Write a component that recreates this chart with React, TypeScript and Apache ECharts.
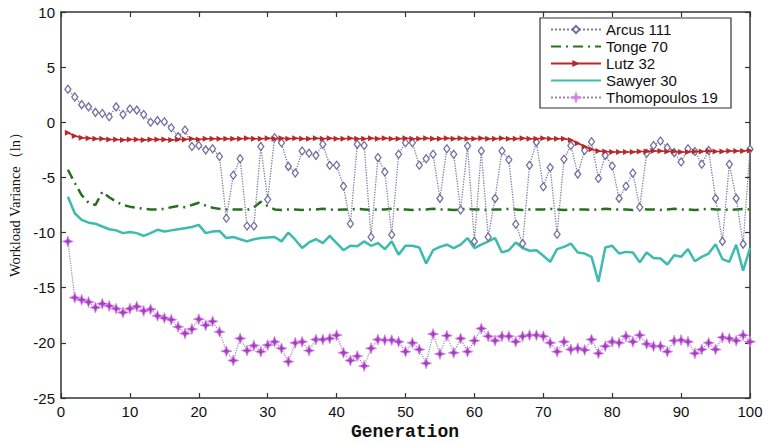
import React, { useEffect, useRef } from "react";
import * as echarts from "echarts";

const generations: number[] = Array.from({ length: 100 }, (_, i) => i + 1);

const arcus = [3.0,2.3,1.6,1.4,0.9,0.8,0.5,1.4,0.7,1.2,
  1.1,0.7,0.0,0.15,0.05,-0.5,-1.3,-0.7,-2.2,-2.1,
  -2.5,-2.4,-3.1,-8.7,-4.8,-3.3,-9.4,-9.4,-2.2,-7.0,
  -1.4,-1.85,-4.0,-4.6,-2.6,-2.8,-3.0,-2.0,-3.9,-3.9,
  -5.8,-9.2,-2.0,-2.1,-10.4,-3.2,-4.5,-10.2,-2.9,-1.85,
  -1.85,-3.9,-3.3,-2.9,-6.9,-2.4,-2.9,-7.95,-2.15,-10.8,
  -2.6,-10.4,-6.9,-2.6,-3.4,-9.25,-11.0,-3.9,-1.8,-5.85,
  -4.1,-10.15,-3.35,-2.1,-4.7,-2.55,-1.76,-5.1,-3.0,-3.96,
  -6.9,-5.8,-4.6,-7.7,-2.8,-2.1,-1.7,-2.3,-2.75,-3.6,
  -2.4,-2.65,-3.8,-2.55,-6.9,-10.8,-3.8,-6.9,-11.05,-2.45];

const tonge = [-4.3,-5.5,-6.6,-7.3,-7.5,-6.3,-6.8,-7.2,-7.5,-7.65,
  -7.75,-7.85,-7.9,-7.9,-7.85,-7.7,-7.6,-7.7,-7.5,-7.3,
  -7.55,-7.75,-7.85,-7.9,-7.9,-7.9,-7.95,-7.7,-7.2,-7.6,
  -7.9,-7.95,-7.9,-7.9,-7.95,-7.9,-7.9,-7.85,-7.9,-7.95,
  -7.9,-7.9,-7.85,-7.9,-7.95,-7.9,-7.9,-7.85,-7.9,-7.9,
  -7.95,-7.9,-7.9,-7.85,-7.9,-7.9,-7.95,-7.9,-7.85,-7.9,
  -7.9,-7.95,-7.9,-7.9,-7.85,-7.9,-7.95,-7.9,-7.9,-7.9,
  -7.85,-7.9,-7.95,-7.9,-7.9,-7.9,-7.95,-7.9,-7.85,-7.9,
  -7.9,-7.9,-7.95,-7.8,-7.9,-7.9,-7.95,-7.9,-7.85,-7.9,
  -7.9,-7.95,-7.9,-7.85,-7.9,-7.9,-7.95,-7.9,-7.85,-7.9];

const lutz = [-0.95,-1.25,-1.4,-1.45,-1.5,-1.5,-1.55,-1.55,-1.6,-1.55,
  -1.55,-1.6,-1.55,-1.55,-1.55,-1.6,-1.55,-1.55,-1.5,-1.55,
  -1.5,-1.5,-1.5,-1.5,-1.5,-1.5,-1.45,-1.5,-1.5,-1.45,
  -1.5,-1.45,-1.5,-1.45,-1.5,-1.5,-1.45,-1.5,-1.45,-1.5,
  -1.5,-1.45,-1.5,-1.5,-1.45,-1.5,-1.45,-1.5,-1.5,-1.45,
  -1.5,-1.5,-1.45,-1.5,-1.5,-1.45,-1.5,-1.45,-1.5,-1.5,
  -1.45,-1.5,-1.5,-1.45,-1.5,-1.5,-1.45,-1.5,-1.5,-1.45,
  -1.5,-1.5,-1.5,-1.6,-1.9,-2.2,-2.45,-2.6,-2.65,-2.7,
  -2.7,-2.7,-2.7,-2.65,-2.65,-2.6,-2.6,-2.65,-2.65,-2.7,
  -2.7,-2.65,-2.65,-2.6,-2.65,-2.65,-2.6,-2.6,-2.6,-2.55];

const sawyer = [-6.75,-8.25,-8.85,-9.1,-9.2,-9.45,-9.7,-9.8,-10.05,-9.95,
  -10.05,-10.3,-10.05,-9.75,-9.9,-9.8,-9.7,-9.6,-9.5,-9.3,
  -10.05,-9.9,-9.85,-10.5,-10.4,-10.6,-10.8,-10.6,-10.5,-10.45,
  -10.4,-10.8,-10.0,-10.65,-11.4,-10.9,-10.6,-10.95,-10.3,-10.95,
  -11.6,-11.2,-11.25,-10.8,-11.2,-10.95,-11.5,-10.8,-12.0,-11.2,
  -11.2,-11.35,-12.8,-11.6,-11.3,-11.1,-11.4,-11.1,-10.5,-11.4,
  -11.1,-10.8,-10.5,-11.8,-11.6,-10.9,-11.4,-11.65,-11.6,-12.1,
  -12.65,-11.5,-11.3,-11.0,-11.8,-11.9,-12.2,-14.45,-11.35,-11.2,
  -11.9,-11.75,-11.8,-12.7,-11.8,-12.3,-12.35,-12.9,-12.05,-12.2,
  -11.5,-12.6,-12.2,-11.9,-11.05,-12.4,-12.65,-11.1,-13.45,-11.4];

const thomopoulos = [-10.8,-15.9,-16.1,-16.3,-16.8,-16.45,-16.65,-16.9,-17.25,-16.9,
  -16.7,-17.1,-16.95,-17.55,-17.75,-17.9,-18.55,-19.15,-18.75,-17.85,
  -18.4,-18.05,-19.0,-20.75,-21.6,-19.6,-20.7,-20.25,-20.8,-20.2,
  -19.9,-20.5,-21.7,-20.0,-19.9,-20.7,-19.7,-19.7,-19.6,-19.3,
  -20.9,-21.6,-21.2,-22.1,-20.5,-19.7,-19.75,-19.75,-19.9,-20.8,
  -20.0,-20.6,-21.85,-19.2,-21.0,-19.35,-20.9,-19.6,-20.8,-19.8,
  -18.7,-19.4,-19.8,-19.4,-19.4,-19.9,-19.4,-19.3,-19.3,-19.4,
  -20.0,-20.8,-19.9,-20.6,-20.5,-20.65,-19.7,-20.95,-20.3,-19.9,
  -20.0,-19.4,-19.9,-19.3,-20.1,-20.3,-20.3,-20.8,-19.8,-19.75,
  -19.9,-20.95,-20.6,-20.0,-20.6,-19.5,-19.6,-19.8,-19.3,-19.9];

const seriesNames = ["Arcus 111", "Tonge 70", "Lutz 32", "Sawyer 30", "Thomopoulos 19"];

const pairs = (vals: number[]) => vals.map((v, i) => [generations[i], v]);

const STAR = "path://M0,-10 L2.6,-2.6 L10,0 L2.6,2.6 L0,10 L-2.6,2.6 L-10,0 L-2.6,-2.6 Z";

export default function App() {
  const ref = useRef<HTMLDivElement>(null);
  useEffect(() => {
    if (!ref.current) return;
    const chart = echarts.init(ref.current, null, { renderer: "svg" });
    const axisCommon = {
      axisLine: { show: true, onZero: false, lineStyle: { color: "#333", width: 1.5 } },
      axisTick: { show: true, inside: true, length: 5, lineStyle: { color: "#333", width: 1.2 } },
      splitLine: { show: false },
    };
    chart.setOption({
      animation: false,
      backgroundColor: "#fff",
      grid: { left: 61, top: 12, width: 689, height: 386, containLabel: false, outerBoundsMode: "none" },
      xAxis: [
        {
          type: "value", min: 0, max: 100, interval: 10, position: "bottom",
          ...axisCommon,
          axisLabel: { color: "#111", fontSize: 15, fontFamily: "Liberation Sans, Arial", margin: 6 },
        },
        {
          type: "value", min: 0, max: 100, interval: 10, position: "top",
          ...axisCommon,
          axisLabel: { show: false },
        },
      ],
      yAxis: [
        {
          type: "value", min: -25, max: 10, interval: 5, position: "left",
          ...axisCommon,
          axisLabel: { color: "#111", fontSize: 15, fontFamily: "Liberation Sans, Arial", margin: 6 },
        },
        {
          type: "value", min: -25, max: 10, interval: 5, position: "right",
          ...axisCommon,
          axisLabel: { show: false },
        },
      ],
      legend: {
        orient: "vertical",
        left: 550,
        top: 21,
        itemWidth: 50,
        itemHeight: 9,
        itemGap: 0,
        padding: 0,
        textStyle: { color: "#111", fontSize: 15, fontFamily: "Liberation Sans, Arial", lineHeight: 17 },
        data: [
          { name: seriesNames[0] },
          { name: seriesNames[1], itemStyle: { opacity: 0 } },
          { name: seriesNames[2] },
          { name: seriesNames[3], itemStyle: { opacity: 0 } },
          { name: seriesNames[4] },
        ],
      },
      graphic: [
        {
          type: "rect", z: 3,
          shape: { x: 540, y: 18, width: 191, height: 90 },
          style: { fill: "#fff", stroke: "#333", lineWidth: 1.2 },
        },
        {
          type: "text", z: 5,
          x: 405, y: 432,
          style: {
            text: "Generation", fontSize: 18, fontFamily: "Liberation Mono, Courier New, monospace",
            fill: "#111", align: "center", verticalAlign: "middle", fontWeight: "bold",
          },
        },
        {
          type: "text", z: 5,
          x: 15, y: 201, rotation: Math.PI / 2,
          style: {
            text: "Workload Variance（ln）", fontSize: 14.5, fontFamily: "Liberation Serif, Times New Roman, serif",
            fill: "#111", align: "center", verticalAlign: "middle",
          },
        },
      ],
      series: [
        {
          name: seriesNames[0], type: "line", data: pairs(arcus),
          symbol: "diamond", symbolSize: [6, 8], showSymbol: true,
          lineStyle: { color: "#7c7ca0", width: 1.3, type: "dotted" },
          itemStyle: { color: "#ffffff", borderColor: "#6f6fa0", borderWidth: 1.3 },
          z: 3,
        },
        {
          name: seriesNames[1], type: "line", data: pairs(tonge),
          symbol: "none", showSymbol: false,
          lineStyle: { color: "#2a6e22", width: 2.5, type: [10, 5, 2, 5] },
          itemStyle: { color: "#2a6e22" },
          z: 2,
        },
        {
          name: seriesNames[2], type: "line", data: pairs(lutz),
          symbol: "triangle", symbolSize: 6, symbolRotate: -90,
          lineStyle: { color: "#b8282a", width: 1.5 },
          itemStyle: { color: "#b8282a" },
          z: 4,
        },
        {
          name: seriesNames[3], type: "line", data: pairs(sawyer),
          symbol: "none", showSymbol: false,
          lineStyle: { color: "#3cbcae", width: 2.5 },
          itemStyle: { color: "#3cbcae" },
          z: 2,
        },
        {
          name: seriesNames[4], type: "line", data: pairs(thomopoulos),
          symbol: STAR, symbolSize: 11,
          lineStyle: { color: "#9a88a8", width: 1.2, type: "dotted" },
          itemStyle: { color: "#a83cc0", borderColor: "#d48ce6", borderWidth: 0.8 },
          z: 3,
        },
      ],
    });
    return () => chart.dispose();
  }, []);
  return (
    <div
      ref={ref}
      style={{ position: "fixed", left: 0, top: 0, width: 763, height: 443, background: "#fff" }}
    />
  );
}
